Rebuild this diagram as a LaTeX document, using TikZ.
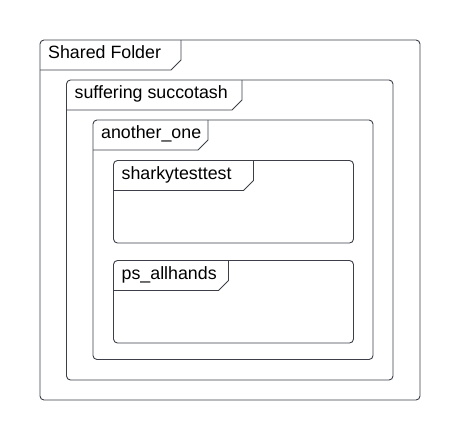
\documentclass[tikz,border=0pt]{standalone}
\usepackage{fontspec}
\setmainfont{Liberation Sans}
\usetikzlibrary{positioning}
\definecolor{framegray}{HTML}{3C3F48}

\tikzset{
  frame/.style={draw=framegray, line width=0.9pt, rounded corners=4pt},
  tabline/.style={draw=framegray, line width=0.9pt},
  tabtext/.style={anchor=base west, inner sep=0pt, font=\fontsize{17.8}{20}\selectfont}
}

% #1,#2 top left, #3,#4 bottom right, #5 tab edge, #6 node name, #7 label
\newcommand{\folder}[7]{%
  \draw[frame] (#1,#2) rectangle (#3,#4);
  \draw[tabline] (#1,#2+30) -- (#5-10,#2+30) -- (#5,#2+20) -- (#5,#2);
  \node[tabtext] (#6) at (#1+8,#2+18.5) {#7};
}

\begin{document}
\begin{tikzpicture}[x=1pt, y=-1pt]
\useasboundingbox (0,0) rectangle (460,440);
\folder{40}{40}{420}{400}{181}{shared}{Shared Folder}
\folder{66.5}{80}{393}{380}{242}{suffering}{suffering succotash}
\folder{93}{120}{373}{359.5}{208}{another}{another\_one}
\folder{113.5}{160.5}{353.5}{243}{253.5}{sharky}{sharkytesttest}
\folder{113.5}{260.5}{353.5}{343}{228.5}{allhands}{ps\_allhands}
\end{tikzpicture}
\end{document}
